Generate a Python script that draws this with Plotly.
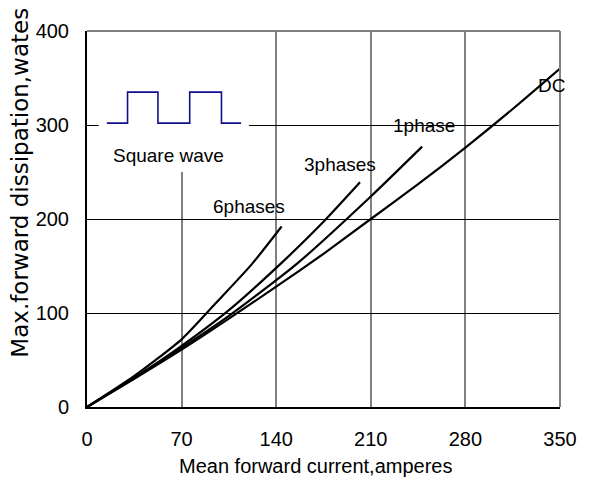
import plotly.graph_objects as go

# Data
dc_x = [0, 35, 70, 105, 140, 175, 210, 245, 280, 315, 350]
dc_y = [0, 30, 61, 94, 128, 163, 200, 237, 276, 317, 360]

ph1_x = [0, 35, 70, 105, 155, 210, 248]
ph1_y = [0, 31, 63, 97, 152, 224, 277]

ph3_x = [0, 35, 70, 105, 143, 175, 202]
ph3_y = [0, 31, 65, 103, 152, 197, 239]

ph6_x = [0, 35, 70, 95, 122, 144]
ph6_y = [0, 33, 72, 110, 152, 192]

wave_x = [14.7, 30, 30, 52.5, 52.5, 76, 76, 99.5, 99.5, 114]
wave_y = [302, 302, 335, 335, 302, 302, 335, 335, 302, 302]

labels = ["DC", "1phase", "3phases", "6phases"]
label_x = [343.5, 249, 187, 120]
label_y = [342, 300, 258, 213]

x_ticks = [0, 70, 140, 210, 280, 350]
y_ticks = [0, 100, 200, 300, 400]

FONT = "Liberation Sans, Arial, sans-serif"

fig = go.Figure()
for xs, ys in [(dc_x, dc_y), (ph1_x, ph1_y), (ph3_x, ph3_y), (ph6_x, ph6_y)]:
    fig.add_trace(go.Scatter(x=xs, y=ys, mode="lines",
                             line=dict(color="black", width=2.2, shape="spline", smoothing=0.6),
                             showlegend=False, hoverinfo="skip"))
fig.add_trace(go.Scatter(x=wave_x, y=wave_y, mode="lines", line=dict(color="#10108a", width=1.6),
                         showlegend=False, hoverinfo="skip"))

# white box behind inset covering gridlines
fig.add_shape(type="rect", x0=8.7, x1=119.8, y0=250, y1=399, xref="x", yref="y",
              fillcolor="white", line=dict(width=0), layer="between")

for t, lx, ly in zip(labels, label_x, label_y):
    fig.add_annotation(x=lx, y=ly, text=t, showarrow=False, xref="x", yref="y",
                       font=dict(family=FONT, size=19, color="black"))
fig.add_annotation(x=60.3, y=267.7, text="Square wave", showarrow=False, xref="x", yref="y",
                   font=dict(family=FONT, size=19, color="black"))

# axis titles
fig.add_annotation(x=-0.141, y=239, xref="paper", yref="y", text="Max.forward dissipation,wates",
                   showarrow=False, textangle=-90, xanchor="center", yanchor="middle",
                   font=dict(family="DejaVu Sans", size=23, color="black"))
fig.add_annotation(x=0.483, y=-0.158, xref="paper", yref="paper", text="Mean forward current,amperes",
                   showarrow=False, xanchor="center", yanchor="middle",
                   font=dict(family=FONT, size=20, color="black"))

# frame: top and right grey
fig.add_shape(type="line", xref="paper", yref="paper", x0=0, x1=1, y0=1, y1=1,
              line=dict(color="#808080", width=2))
fig.add_shape(type="line", xref="paper", yref="paper", x0=1, x1=1, y0=0, y1=1,
              line=dict(color="#808080", width=2))

fig.update_layout(
    width=581, height=477,
    margin=dict(l=79, r=20, t=12, b=78),
    paper_bgcolor="white", plot_bgcolor="white",
    font=dict(family=FONT, size=20, color="black"),
    xaxis=dict(range=[0, 350], tickvals=x_ticks, showgrid=True, gridcolor="#808080", gridwidth=2,
               zeroline=False, showline=True, linecolor="black", linewidth=2, ticks="",
               ticklabelstandoff=13, tickfont=dict(size=20)),
    yaxis=dict(range=[0, 400], tickvals=y_ticks, showgrid=True, gridcolor="black", gridwidth=1,
               zeroline=False, showline=True, linecolor="black", linewidth=2, ticks="",
               ticklabelstandoff=12, tickfont=dict(size=20)),
)

fig.write_html("out.html")
